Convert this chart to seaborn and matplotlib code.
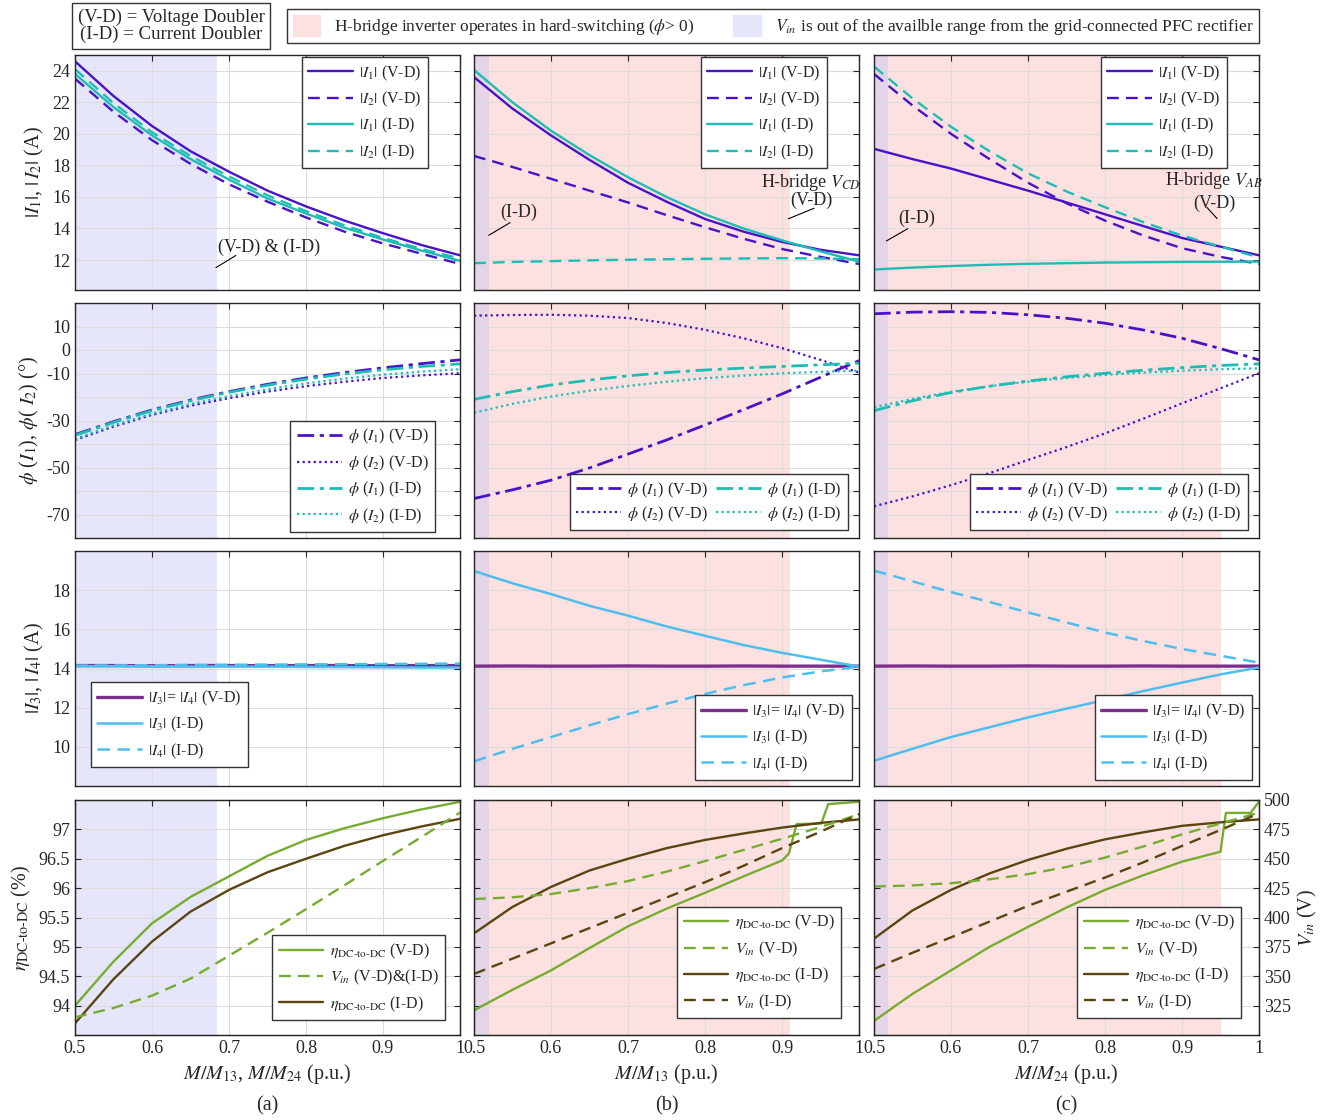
import matplotlib
matplotlib.use("Agg")
import matplotlib.pyplot as plt
from matplotlib.patches import Patch
from matplotlib.ticker import FuncFormatter
import seaborn as sns

# ---------------- data ----------------
m = [0.5, 0.55, 0.6, 0.65, 0.7, 0.75, 0.8, 0.85, 0.9, 0.95, 1.0]

# row 1: |I1|, |I2| (A)
i1_vd_a = [24.6, 22.4, 20.5, 18.9, 17.6, 16.4, 15.4, 14.5, 13.7, 12.95, 12.3]
i2_vd_a = [23.5, 21.4, 19.6, 18.1, 16.8, 15.7, 14.7, 13.8, 13.05, 12.4, 11.75]
i1_id_a = [23.8, 21.7, 19.9, 18.4, 17.1, 15.9, 14.95, 14.05, 13.3, 12.6, 11.95]
i2_id_a = [24.1, 21.95, 20.1, 18.6, 17.3, 16.1, 15.1, 14.2, 13.4, 12.7, 12.1]

i1_vd_b = [23.6, 21.6, 19.9, 18.35, 16.9, 15.7, 14.6, 13.8, 13.15, 12.65, 12.3]
i2_vd_b = [18.6, 17.9, 17.15, 16.4, 15.65, 14.85, 14.08, 13.35, 12.7, 12.2, 11.75]
i1_id_b = [24.05, 22.0, 20.2, 18.65, 17.25, 16.0, 14.9, 14.0, 13.25, 12.55, 11.9]
i2_id_b = [11.8, 11.88, 11.93, 11.98, 12.02, 12.05, 12.08, 12.1, 12.12, 12.1, 12.05]

i1_vd_c = [19.05, 18.4, 17.8, 17.1, 16.4, 15.65, 14.9, 14.15, 13.4, 12.85, 12.3]
i2_vd_c = [23.8, 21.8, 20.0, 18.4, 16.9, 15.6, 14.5, 13.55, 12.75, 12.2, 11.75]
i1_id_c = [11.4, 11.52, 11.62, 11.7, 11.76, 11.8, 11.84, 11.86, 11.88, 11.89, 11.9]
i2_id_c = [24.27, 22.25, 20.45, 18.9, 17.5, 16.35, 15.35, 14.4, 13.55, 12.85, 12.17]

# row 2: phase of I1, I2 (deg)
p1_vd_a = [-36.0, -30.5, -25.5, -21.3, -17.7, -14.6, -11.9, -9.6, -7.6, -5.8, -4.2]
p2_vd_a = [-38.3, -32.6, -27.6, -23.7, -20.5, -17.7, -15.4, -13.5, -11.9, -10.8, -9.9]
p1_id_a = [-36.3, -30.8, -25.8, -21.6, -18.0, -15.0, -12.4, -10.2, -8.4, -7.0, -5.9]
p2_id_a = [-37.8, -32.1, -27.1, -23.0, -19.6, -16.7, -14.2, -12.2, -10.5, -9.2, -8.2]

p1_vd_b = [-63.2, -59.5, -55.4, -50.2, -44.3, -38.3, -31.9, -25.4, -18.7, -11.6, -4.5]
p2_vd_b = [14.6, 14.9, 15.0, 14.6, 13.6, 11.5, 8.6, 5.0, 0.8, -4.2, -9.6]
p1_id_b = [-21.0, -17.7, -14.9, -12.8, -11.0, -9.6, -8.5, -7.7, -7.0, -6.3, -5.6]
p2_id_b = [-26.7, -22.9, -19.8, -17.3, -15.3, -13.5, -12.0, -10.9, -9.9, -9.3, -8.8]

p1_vd_c = [15.4, 16.1, 16.3, 16.0, 15.0, 13.5, 11.4, 8.5, 5.0, 0.6, -4.2]
p2_vd_c = [-66.5, -62.3, -57.5, -52.4, -46.8, -41.3, -35.5, -29.2, -22.7, -16.3, -9.9]
p1_id_c = [-25.8, -21.6, -18.1, -15.4, -13.2, -11.4, -9.9, -8.6, -7.5, -6.6, -5.9]
p2_id_c = [-24.4, -20.8, -17.8, -15.4, -13.5, -11.9, -10.6, -9.6, -8.8, -8.2, -7.8]

# row 3: |I3|, |I4| (A)
i34_vd_a = [14.15, 14.15, 14.14, 14.15, 14.15, 14.14, 14.15, 14.15, 14.14, 14.15, 14.15]
i3_id_a = [14.12, 14.12, 14.11, 14.1, 14.1, 14.09, 14.08, 14.07, 14.06, 14.05, 14.05]
i4_id_a = [14.15, 14.16, 14.17, 14.18, 14.19, 14.2, 14.21, 14.22, 14.23, 14.24, 14.25]

i34_vd_b = [14.12, 14.13, 14.12, 14.12, 14.13, 14.12, 14.12, 14.13, 14.12, 14.12, 14.12]
i3_id_b = [18.98, 18.35, 17.8, 17.2, 16.7, 16.15, 15.67, 15.2, 14.8, 14.45, 14.1]
i4_id_b = [9.26, 9.9, 10.5, 11.1, 11.67, 12.2, 12.7, 13.15, 13.54, 13.85, 14.1]

i34_vd_c = [14.12, 14.13, 14.12, 14.12, 14.13, 14.12, 14.12, 14.13, 14.12, 14.12, 14.12]
i3_id_c = [9.29, 9.9, 10.5, 11.0, 11.5, 11.95, 12.39, 12.85, 13.28, 13.7, 14.05]
i4_id_c = [19.0, 18.45, 17.9, 17.4, 16.86, 16.35, 15.84, 15.4, 15.0, 14.65, 14.3]

# row 4: efficiency (%) and Vin (V)
eta_vd_a = [94.0, 94.75, 95.4, 95.85, 96.2, 96.55, 96.82, 97.02, 97.19, 97.34, 97.47]
eta_id_a = [93.7, 94.45, 95.09, 95.6, 95.97, 96.27, 96.5, 96.72, 96.9, 97.05, 97.18]
vin_a = [315.1, 323.0, 333.5, 348.0, 367.5, 387.0, 407.1, 427.5, 448.2, 468.5, 489.3]

m_eta_vd_b = [0.5, 0.55, 0.6, 0.65, 0.7, 0.75, 0.8, 0.85, 0.9, 0.909, 0.919, 0.951, 0.96, 1.0]
eta_vd_b = [93.92, 94.27, 94.6, 94.98, 95.35, 95.65, 95.92, 96.2, 96.47, 96.59, 97.09, 97.1, 97.43, 97.47]
eta_id_b = [95.23, 95.68, 96.02, 96.3, 96.5, 96.68, 96.82, 96.93, 97.03, 97.11, 97.17]
vin_vd_b = [415.7, 417.2, 420.0, 425.0, 431.0, 439.0, 448.0, 457.5, 467.0, 477.0, 487.8]
vin_id_b = [352.0, 365.0, 378.0, 391.0, 404.0, 417.0, 430.0, 444.0, 459.0, 473.0, 488.0]

m_eta_vd_c = [0.5, 0.55, 0.6, 0.65, 0.7, 0.75, 0.8, 0.85, 0.9, 0.95, 0.957, 0.989, 1.0]
eta_vd_c = [93.74, 94.2, 94.6, 95.0, 95.34, 95.67, 95.97, 96.22, 96.45, 96.62, 97.28, 97.28, 97.47]
eta_id_c = [95.14, 95.62, 95.97, 96.25, 96.48, 96.67, 96.83, 96.95, 97.06, 97.12, 97.17]
vin_vd_c = [426.4, 427.3, 429.2, 432.5, 436.9, 443.0, 451.0, 460.5, 470.8, 480.0, 489.3]
vin_id_c = [356.2, 370.0, 383.1, 396.5, 409.9, 422.0, 434.0, 447.0, 460.9, 474.5, 488.7]

# shaded ranges
blue_end_a = 0.685
low_end = [None, 0.52, 0.518]
hard_end = [None, 0.91, 0.95]

# ---------------- style ----------------
sns.set_style("white")
plt.rcParams['font.family'] = ['Liberation Serif', 'DejaVu Serif']
plt.rcParams['mathtext.fontset'] = 'stix'
plt.rcParams['axes.edgecolor'] = '#262626'
plt.rcParams['xtick.color'] = '#262626'
plt.rcParams['ytick.color'] = '#262626'

C_VD = '#4A12C8'
C_ID = '#1DBDB4'
C_VD3 = '#7E2F8E'
C_ID3 = '#4DBEEE'
C_G = '#77AC30'
C_BR = '#5A4510'
PINK = '#FDE1E1'
BLUE = '#E6E6FA'
MIX = '#E3D4E8'

DASH = (0, (5, 3))
DASHDOT = (0, (6, 2, 1.5, 2))
DOT = (0, (1, 1.5))

FIG_W, FIG_H = 1333, 1120
fig = plt.figure(figsize=(FIG_W / 100, FIG_H / 100), dpi=100)
LEFT = [75, 474, 874]
TOP = [55, 303, 551, 800]
W, H = 385, 235
fmt = FuncFormatter(lambda v, p: '%g' % v)


def add_axes(r, c):
    ax = fig.add_axes([LEFT[c] / FIG_W, 1 - (TOP[r] + H) / FIG_H, W / FIG_W, H / FIG_H])
    ax.set_xlim(0.5, 1.0)
    ax.set_xticks([0.5, 0.6, 0.7, 0.8, 0.9, 1.0])
    ax.xaxis.set_major_formatter(fmt)
    ax.grid(True, color='#dcdcdc', lw=0.8)
    ax.set_axisbelow(True)
    ax.tick_params(direction='in', length=4, top=True, right=True, labelsize=13)
    for s in ax.spines.values():
        s.set_linewidth(1.0)
    if c == 0:
        ax.axvspan(0.5, blue_end_a, color=BLUE, lw=0, zorder=0)
    else:
        ax.axvspan(0.5, hard_end[c], color=PINK, lw=0, zorder=0)
        ax.axvspan(0.5, low_end[c], color=MIX, lw=0, zorder=0)
    if c != 0:
        ax.tick_params(labelleft=False)
    if r != 3:
        ax.tick_params(labelbottom=False)
    return ax


def draw(ax, x, y, color, ls, lw=1.7):
    sns.lineplot(x=x, y=y, ax=ax, color=color, linestyle=ls, linewidth=lw,
                 legend=False, errorbar=None, sort=False)
    return ax.lines[-1]


def leg(ax, handles, labels, loc, anchor, ncol=1, **kw):
    opts = dict(fontsize=11.5, frameon=True, fancybox=False, framealpha=1,
                edgecolor='#333333', borderaxespad=0, handlelength=2.8,
                handletextpad=0.4, labelspacing=0.45, borderpad=0.4)
    opts.update(kw)
    lg = ax.legend(handles, labels, loc=loc, bbox_to_anchor=anchor, ncol=ncol, **opts)
    lg.get_frame().set_linewidth(1.0)
    return lg


def I(n):
    return r'$|I_{\mathit{%s}}|$' % n


# ---------------- row 1 ----------------
row1 = [(i1_vd_a, i2_vd_a, i1_id_a, i2_id_a),
        (i1_vd_b, i2_vd_b, i1_id_b, i2_id_b),
        (i1_vd_c, i2_vd_c, i1_id_c, i2_id_c)]
lab1 = [I(1) + ' (V-D)', I(2) + ' (V-D)', I(1) + ' (I-D)', I(2) + ' (I-D)']
for c, (a1, a2, b1, b2) in enumerate(row1):
    ax = add_axes(0, c)
    h = [draw(ax, m, a1, C_VD, '-'), draw(ax, m, a2, C_VD, DASH),
         draw(ax, m, b1, C_ID, '-'), draw(ax, m, b2, C_ID, DASH)]
    ax.set_ylim(10.1, 25)
    ax.set_yticks([12, 14, 16, 18, 20, 22, 24])
    leg(ax, h, lab1, 'upper right', (1 - 32 / W, 1 - 2 / H))
    if c == 0:
        ax.set_ylabel(r'$|I_{\mathit{1}}|$, $|\,I_{\mathit{2}}|$ (A)', fontsize=14.5)
        ax.text(0.752, 12.82, '(V-D) & (I-D)', fontsize=13, ha='center', va='center')
        ax.annotate('', xy=(0.680, 11.43), xytext=(0.712, 12.38),
                    arrowprops=dict(arrowstyle='-', lw=0.8, color='k'))
    else:
        ann = [(0.558, 15.03, (0.516, 13.48), (0.550, 14.46), 'CD', 0.938, 16.9, 15.78,
                (0.905, 14.55), (0.945, 15.35)),
               (0.5555, 14.66, (0.513, 13.12), (0.547, 14.08), 'AB', 0.9416, 17.05, 15.6,
                (0.948, 14.5), (0.930, 15.46))][c - 1]
        ax.text(ann[0], ann[1], '(I-D)', fontsize=13, ha='center', va='center')
        ax.annotate('', xy=ann[2], xytext=ann[3],
                    arrowprops=dict(arrowstyle='-', lw=0.8, color='k'))
        ax.text(ann[5], ann[6], r'H-bridge $V_{%s}$' % ann[4], fontsize=13,
                ha='center', va='center')
        ax.text(ann[5], ann[7], '(V-D)', fontsize=13, ha='center', va='center')
        ax.annotate('', xy=ann[8], xytext=ann[9],
                    arrowprops=dict(arrowstyle='-', lw=0.8, color='k'))

# ---------------- row 2 ----------------
row2 = [(p1_vd_a, p2_vd_a, p1_id_a, p2_id_a),
        (p1_vd_b, p2_vd_b, p1_id_b, p2_id_b),
        (p1_vd_c, p2_vd_c, p1_id_c, p2_id_c)]
lab2 = [r'$\phi$ ($I_{\mathit{1}}$) (V-D)', r'$\phi$ ($I_{\mathit{2}}$) (V-D)',
        r'$\phi$ ($I_{\mathit{1}}$) (I-D)', r'$\phi$ ($I_{\mathit{2}}$) (I-D)']
yt2 = [10, 0, -10, -20, -30, -40, -50, -60, -70]
ytl2 = ['10', '0', '-10', '', '-30', '', '-50', '', '-70']
for c, (a1, a2, b1, b2) in enumerate(row2):
    ax = add_axes(1, c)
    h = [draw(ax, m, a1, C_VD, DASHDOT, 2.0), draw(ax, m, a2, C_VD, DOT, 1.6),
         draw(ax, m, b1, C_ID, DASHDOT, 2.0), draw(ax, m, b2, C_ID, DOT, 1.6)]
    ax.set_ylim(-80, 20)
    ax.set_yticks(yt2)
    if c == 0:
        ax.set_yticklabels(ytl2)
        leg(ax, h, lab2, 'lower right', (1 - 25 / W, 6 / H))
        ax.set_ylabel(r'$\phi$ ($I_{\mathit{1}}$), $\phi$( $I_{\mathit{2}}$) (°)', fontsize=14.5)
    else:
        leg(ax, h, lab2, 'lower right', (1 - 11 / W, 8 / H), ncol=2,
            columnspacing=0.5, labelspacing=0.3)

# ---------------- row 3 ----------------
row3 = [(i34_vd_a, i3_id_a, i4_id_a), (i34_vd_b, i3_id_b, i4_id_b),
        (i34_vd_c, i3_id_c, i4_id_c)]
lab3 = [I(3) + '= ' + I(4) + ' (V-D)', I(3) + ' (I-D)', I(4) + ' (I-D)']
for c, (v, s3, s4) in enumerate(row3):
    ax = add_axes(2, c)
    h = [draw(ax, m, v, C_VD3, '-', 2.4), draw(ax, m, s3, C_ID3, '-', 1.8),
         draw(ax, m, s4, C_ID3, DASH, 1.8)]
    ax.set_ylim(8, 20)
    ax.set_yticks([10, 12, 14, 16, 18])
    if c == 0:
        leg(ax, h, lab3, 'lower left', (16 / W, 19 / H))
        ax.set_ylabel(r'$|I_{\mathit{3}}|$, $|\,I_{\mathit{4}}|$ (A)', fontsize=14.5)
    else:
        leg(ax, h, lab3, 'lower right', (1 - 7 / W, 6 / H))

# ---------------- row 4 ----------------
ETA = '$\\eta_{\\mathrm{DC\u2010to\u2010DC}}$'
VIN = r'$V_{in}$'
xl = [r'$M/M_{13}$, $M/M_{24}$ (p.u.)', r'$M/M_{13}$ (p.u.)', r'$M/M_{24}$ (p.u.)']
row4 = [(m, eta_vd_a, eta_id_a, vin_a, None),
        (m_eta_vd_b, eta_vd_b, eta_id_b, vin_vd_b, vin_id_b),
        (m_eta_vd_c, eta_vd_c, eta_id_c, vin_vd_c, vin_id_c)]
for c, (mx, ev, ei, vv, vi) in enumerate(row4):
    ax = add_axes(3, c)
    ax.set_ylim(93.5, 97.5)
    ax.set_yticks([94, 94.5, 95, 95.5, 96, 96.5, 97])
    ax.yaxis.set_major_formatter(fmt)
    ax.tick_params(right=False)
    tw = ax.twinx()
    tw.set_ylim(300, 500)
    tw.set_yticks([325, 350, 375, 400, 425, 450, 475, 500])
    tw.tick_params(direction='in', length=4, labelsize=13, labelright=(c == 2))
    h_ev = draw(ax, mx, ev, C_G, '-')
    h_ei = draw(ax, m, ei, C_BR, '-')
    h_vv = draw(tw, m, vv, C_G, DASH)
    ax.set_xlabel(xl[c], fontsize=14.5, labelpad=4)
    if c == 0:
        ax.set_ylabel(ETA + ' (%)', fontsize=14.5)
        leg(tw, [h_ev, h_vv, h_ei],
            [ETA + ' (V-D)', VIN + ' (V-D)&(I-D)', ETA + ' (I-D)'],
            'lower right', (1 - 15 / W, 15 / H))
    else:
        h_vi = draw(tw, m, vi, C_BR, DASH)
        leg(tw, [h_ev, h_vv, h_ei, h_vi],
            [ETA + ' (V-D)', VIN + ' (V-D)', ETA + ' (I-D)', VIN + ' (I-D)'],
            'lower right', (1 - 18 / W, 17 / H))
    if c == 2:
        tw.set_ylabel(VIN + ' (V)', fontsize=14.5)
    fig.text((LEFT[c] + W / 2) / FIG_W, 1 - 1106 / FIG_H, '(%s)' % 'abc'[c],
             fontsize=14.5, ha='center', va='center')

# ---------------- top legend boxes ----------------
fig.text(171 / FIG_W, 1 - 26 / FIG_H, '(V-D) = Voltage Doubler\n(I-D) = Current Doubler',
         fontsize=13.5, ha='center', va='center', linespacing=0.95,
         bbox=dict(boxstyle='square,pad=0.3', fc='white', ec='#333333', lw=1.0))
top = fig.legend([Patch(color=PINK), Patch(color=BLUE)],
                 [r'H-bridge inverter operates in hard-switching ($\phi$> 0)',
                  VIN + ' is out of the availble range from the grid-connected PFC rectifier'],
                 loc='center', bbox_to_anchor=(773 / FIG_W, 1 - 26 / FIG_H), ncol=2,
                 fontsize=12.5, fancybox=False, framealpha=1, edgecolor='#333333',
                 handlelength=1.6, handleheight=1.5, columnspacing=2.2, borderpad=0.35)
top.get_frame().set_linewidth(1.0)

fig.savefig('out.png', dpi=100)
